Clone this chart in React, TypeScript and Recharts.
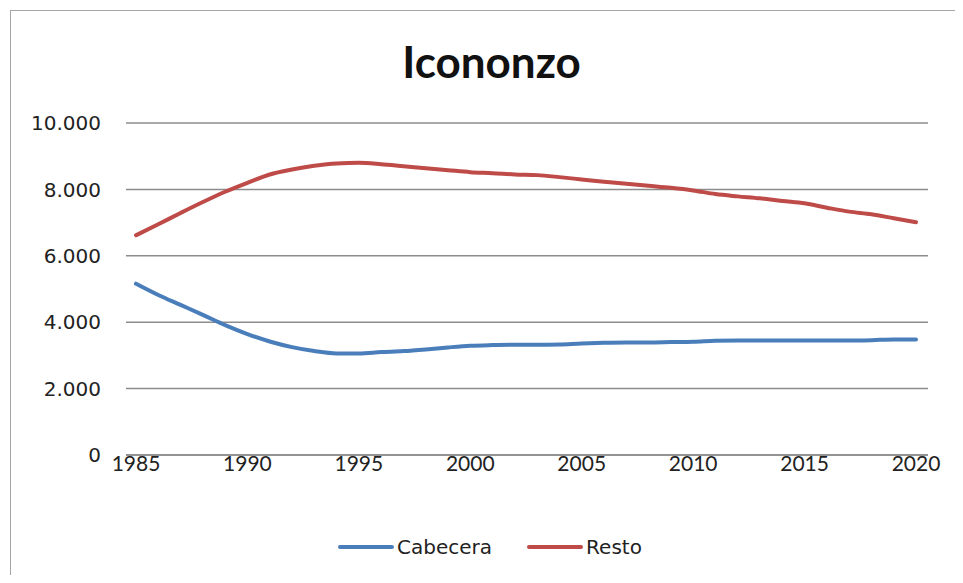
import { LineChart, Line, XAxis, YAxis, CartesianGrid } from 'recharts'

const years = [
  1985, 1986, 1987, 1988, 1989, 1990, 1991, 1992, 1993, 1994, 1995, 1996,
  1997, 1998, 1999, 2000, 2001, 2002, 2003, 2004, 2005, 2006, 2007, 2008,
  2009, 2010, 2011, 2012, 2013, 2014, 2015, 2016, 2017, 2018, 2019, 2020,
]

const cabecera = [
  5160, 4820, 4520, 4220, 3910, 3640, 3420, 3250, 3130, 3060, 3060, 3100,
  3130, 3180, 3240, 3290, 3310, 3320, 3320, 3330, 3360, 3380, 3390, 3390,
  3400, 3410, 3440, 3450, 3450, 3450, 3450, 3450, 3450, 3460, 3480, 3480,
]

const resto = [
  6620, 6950, 7290, 7620, 7930, 8200, 8450, 8600, 8710, 8780, 8800, 8760,
  8700, 8640, 8580, 8520, 8490, 8450, 8430, 8370, 8300, 8230, 8170, 8110,
  8050, 7970, 7860, 7790, 7730, 7650, 7580, 7450, 7330, 7250, 7130, 7010,
]

const xTicks = [1985, 1990, 1995, 2000, 2005, 2010, 2015, 2020]
const yTicks = [0, 2000, 4000, 6000, 8000, 10000]

const BLUE = '#4a7ebb'
const RED = '#be4b48'

const series = [
  { name: 'Cabecera', color: BLUE },
  { name: 'Resto', color: RED },
]

const data = years.map((year, i) => ({ year, Cabecera: cabecera[i], Resto: resto[i] }))

// 10000 -> "10.000"
const fmt = (v: number) => String(v).replace(/\B(?=(\d{3})+(?!\d))/g, '.')

function ChartLegend() {
  return (
    <div
      style={{
        position: 'absolute', left: 0, top: 535, width: 980,
        display: 'flex', justifyContent: 'center', alignItems: 'center', gap: 35,
      }}
    >
      {series.map((it) => (
        <div key={it.name} style={{ display: 'flex', alignItems: 'center' }}>
          <span style={{ display: 'inline-block', width: 56, height: 4, borderRadius: 2, background: it.color, marginRight: 3 }} />
          <span style={{ fontFamily: 'DejaVu Sans', fontSize: 20, color: '#222' }}>{it.name}</span>
        </div>
      ))}
    </div>
  )
}

export default function App() {
  return (
    <div style={{ margin: -8, width: 963, height: 583, position: 'relative', overflow: 'hidden', background: '#fff' }}>
      <div style={{ position: 'absolute', left: 10, top: 10, width: 980, height: 600, border: '1.5px solid #a6a6a6' }} />
      <div
        style={{
          position: 'absolute', left: 0, top: 35, width: 983, textAlign: 'center',
          fontFamily: 'Lato', fontWeight: 700, fontSize: 44, color: '#111',
        }}
      >
        Icononzo
      </div>
      <LineChart
        width={963}
        height={583}
        data={data}
        margin={{ top: 123, right: 35, bottom: 88, left: 0 }}
        style={{ position: 'absolute', left: 0, top: 0 }}
      >
        <CartesianGrid vertical={false} stroke="#8c8c8c" strokeWidth={1.5} />
        <XAxis
          dataKey="year"
          type="number"
          domain={[1985, 2020]}
          ticks={xTicks}
          padding={{ left: 10, right: 12 }}
          axisLine={{ stroke: '#8c8c8c', strokeWidth: 1.5 }}
          tickLine={false}
          tickSize={0}
          tickMargin={1}
          height={40}
          tick={{ fontFamily: 'Lato', fontSize: 21, fill: '#222' }}
        />
        <YAxis
          domain={[0, 10000]}
          ticks={yTicks}
          width={126}
          axisLine={false}
          tickLine={false}
          tickSize={0}
          tickMargin={25}
          tickFormatter={fmt}
          tick={{ fontFamily: 'DejaVu Sans', fontSize: 20, fill: '#222' }}
        />
        <Line
          type="monotone"
          dataKey="Cabecera"
          stroke={BLUE}
          strokeWidth={4}
          dot={false}
          strokeLinecap="round"
          isAnimationActive={false}
        />
        <Line
          type="monotone"
          dataKey="Resto"
          stroke={RED}
          strokeWidth={4}
          dot={false}
          strokeLinecap="round"
          isAnimationActive={false}
        />
      </LineChart>
      <ChartLegend />
    </div>
  )
}
